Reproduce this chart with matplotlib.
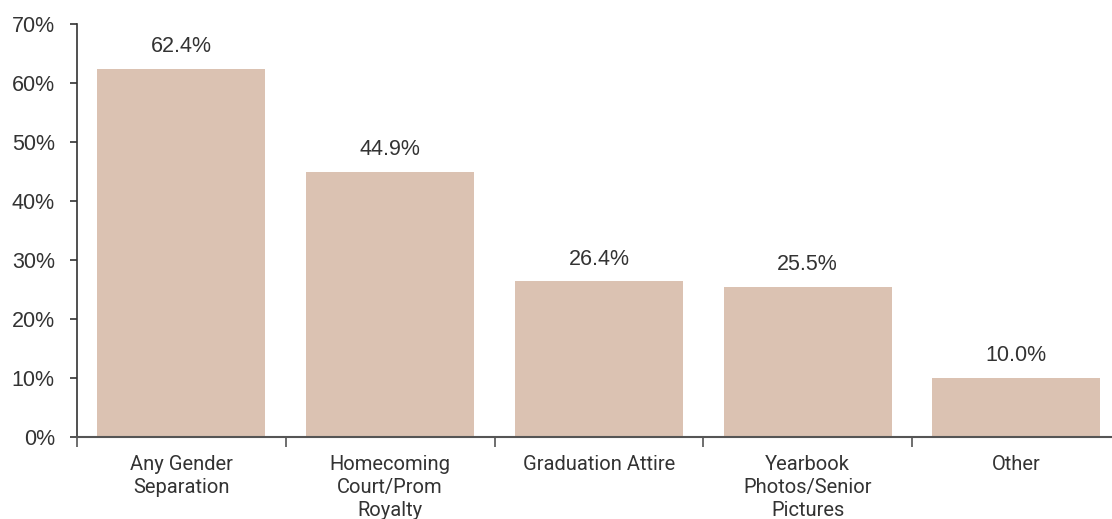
import matplotlib
matplotlib.use("Agg")
import matplotlib.pyplot as plt
from matplotlib.ticker import FuncFormatter, FixedLocator, NullFormatter

categories = ["Any Gender\nSeparation", "Homecoming\nCourt/Prom\nRoyalty", "Graduation Attire",
              "Yearbook\nPhotos/Senior\nPictures", "Other"]
values = [62.4, 44.9, 26.4, 25.5, 10.0]
value_labels = ["62.4%", "44.9%", "26.4%", "25.5%", "10.0%"]
y_ticks = [0, 10, 20, 30, 40, 50, 60, 70]

plt.rcParams['font.family'] = ['Liberation Sans', 'DejaVu Sans']
text_color = "#333333"
bar_color = "#dbc2b2"

fig = plt.figure(figsize=(11.12, 5.19), dpi=100)
ax = fig.add_axes([77/1112, 1-437/519, 5*208.75/1112, (437-24)/519])

x = list(range(len(categories)))
bars = ax.bar(x, values, width=0.805, color=bar_color, zorder=2)
for xi, v, lab in zip(x, values, value_labels):
    ax.annotate(lab, (xi, v), xytext=(0, 12), textcoords="offset points",
                ha="center", va="baseline", fontsize=15.5, color=text_color)

ax.set_xlim(-0.5, len(categories) - 0.5)
ax.set_ylim(0, 70)
ax.set_yticks(y_ticks)
ax.yaxis.set_major_formatter(FuncFormatter(lambda v, p: f"{int(v)}%"))
ax.tick_params(axis="y", length=5, width=1.2, color="#333333", labelsize=15.5,
               labelcolor=text_color, pad=11)

ax.set_xticks(x)
ax.set_xticklabels(categories, fontsize=14.5, color=text_color, linespacing=1.28,
                   family=['Roboto', 'DejaVu Sans'])
ax.tick_params(axis="x", which="major", length=0, pad=13)
ax.xaxis.set_minor_locator(FixedLocator([i - 0.5 for i in range(len(categories) + 1)]))
ax.xaxis.set_minor_formatter(NullFormatter())
ax.tick_params(axis="x", which="minor", length=7, width=1.2, color="#555555")

for s in ["top", "right"]:
    ax.spines[s].set_visible(False)
ax.spines["left"].set_color("#333333")
ax.spines["left"].set_linewidth(1.2)
ax.spines["bottom"].set_color("#555555")
ax.spines["bottom"].set_linewidth(1.5)

fig.savefig("out.png", dpi=100)
